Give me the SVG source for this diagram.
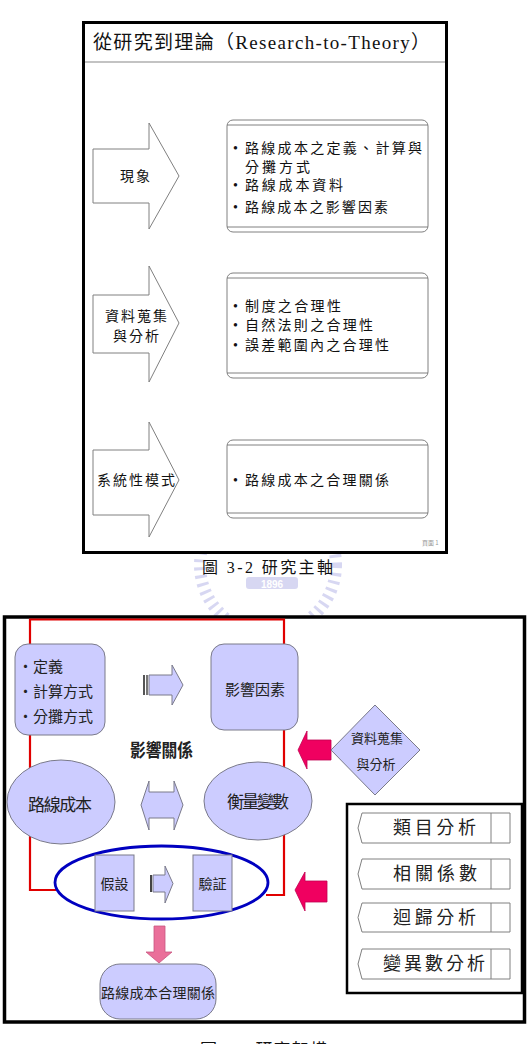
<svg xmlns="http://www.w3.org/2000/svg" width="529" height="1044" viewBox="0 0 529 1044">
<style>
.t1{font-family:"Liberation Serif","Noto Sans CJK TC",serif;fill:#111}
.t2{font-family:"Noto Sans CJK TC","Noto Sans CJK SC",sans-serif;fill:#222}
.frame{fill:#fff;stroke:#000}
.gbox{fill:#fff;stroke:#808080;stroke-width:1}
.lav{fill:#ccccff;stroke:#7a7a8a;stroke-width:1}
.red{fill:#f00060;stroke:#c00050;stroke-width:0.8}
.tab{fill:#fff;stroke:#808080;stroke-width:1}
</style>
<rect width="529" height="1044" fill="#fff"/>
<!-- watermark -->
<g id="watermark" opacity="0.55">
<circle cx="268" cy="565" r="68" fill="none" stroke="#b8b8e8" stroke-width="12" stroke-dasharray="3 5"/>
<rect x="246" y="577" width="52" height="12" rx="3" fill="#b8b8e8"/>
<text x="272" y="587.5" text-anchor="middle" font-family="Liberation Sans,sans-serif" font-weight="bold" font-size="10" fill="#fff">1896</text>
</g>
<!-- Figure 3-2 -->
<g id="fig32">
<rect class="frame" x="83.5" y="22.5" width="363" height="530" stroke-width="3"/>
<line x1="85" y1="62" x2="445" y2="62" stroke="#888" stroke-width="1.2"/>
<text class="t1" x="93" y="49" font-size="19" textLength="337" lengthAdjust="spacing">從研究到理論（Research-to-Theory）</text>
<text x="422" y="545" font-family="Noto Sans CJK TC,sans-serif" font-size="6" fill="#999">頁面 1</text>
</g>
<g id="arrow1">
<polygon class="gbox" points="93,149 149,149 149,123 179,176 149,229 149,203 93,203"/>
<text class="t1" x="136" y="181" font-size="14" text-anchor="middle" letter-spacing="2">現象</text>
</g>
<g id="box1">
<rect class="gbox" x="227" y="120" width="201" height="112" rx="6"/>
<line x1="227" y1="125" x2="428" y2="125" stroke="#808080"/>
<line x1="227" y1="227" x2="428" y2="227" stroke="#808080"/>
<g class="t1" font-size="14">
<text x="233" y="153">•</text><text x="245" y="153" textLength="177" lengthAdjust="spacing">路線成本之定義、計算與</text>
<text x="245" y="172" textLength="65" lengthAdjust="spacing">分攤方式</text>
<text x="233" y="190">•</text><text x="245" y="190" textLength="98" lengthAdjust="spacing">路線成本資料</text>
<text x="233" y="212">•</text><text x="245" y="212" textLength="143" lengthAdjust="spacing">路線成本之影響因素</text>
</g>
</g>
<g id="arrow2">
<polygon class="gbox" points="93,295 149,295 149,266 179,323 149,382 149,353 93,353"/>
<text class="t1" x="137" y="321" font-size="14" text-anchor="middle" letter-spacing="2">資料蒐集</text>
<text class="t1" x="137" y="341" font-size="14" text-anchor="middle" letter-spacing="2">與分析</text>
</g>
<g id="box2">
<rect class="gbox" x="227" y="273" width="201" height="105" rx="6"/>
<line x1="227" y1="278" x2="428" y2="278" stroke="#808080"/>
<line x1="227" y1="373" x2="428" y2="373" stroke="#808080"/>
<g class="t1" font-size="14">
<text x="233" y="311">•</text><text x="245" y="311" textLength="96" lengthAdjust="spacing">制度之合理性</text>
<text x="233" y="330">•</text><text x="245" y="330" textLength="128" lengthAdjust="spacing">自然法則之合理性</text>
<text x="233" y="350">•</text><text x="245" y="350" textLength="144" lengthAdjust="spacing">誤差範圍內之合理性</text>
</g>
</g>
<g id="arrow3">
<polygon class="gbox" points="93,450 149,450 149,422 179,480 149,537 149,515 93,515"/>
<text class="t1" x="97" y="485" font-size="14" textLength="78" lengthAdjust="spacing">系統性模式</text>
</g>
<g id="box3">
<rect class="gbox" x="227" y="440" width="201" height="78" rx="6"/>
<line x1="227" y1="445" x2="428" y2="445" stroke="#808080"/>
<line x1="227" y1="513" x2="428" y2="513" stroke="#808080"/>
<g class="t1" font-size="14">
<text x="233" y="485">•</text><text x="245" y="485" textLength="144" lengthAdjust="spacing">路線成本之合理關係</text>
</g>
</g>
<text class="t1" x="202" y="573" font-size="16" textLength="131" lengthAdjust="spacing">圖 3-2 研究主軸</text>
<!-- Figure 3-3 -->
<g id="fig33">
<rect class="frame" x="4.5" y="617" width="520" height="405" stroke-width="3.5"/>
</g>
<g id="connectors">
<path d="M56,890 H30 V619.5 H284 V895 H266" fill="none" stroke="#e00000" stroke-width="2.2"/>
<polygon points="143,675 145,675 145,695 143,695" fill="#555"/>
<polygon points="146,675 148,675 148,695 146,695" fill="#777"/>
<polygon class="lav" points="149,675 172,675 172,665 183,685 172,705 172,695 149,695"/>
<polygon class="lav" points="141,805 149,781 149,792 174,792 174,781 183,805 174,830 174,818 149,818 149,830"/>
<polygon points="150,875 152,875 152,892 150,892" fill="#444"/>
<polygon class="lav" points="153,875 165,875 165,866 173,883.5 165,903 165,892 153,892"/>
<polygon points="154,926 165,926 165,952 172,952 159,963 146,952 154,952" fill="#ea6f9a" stroke="#c85580" stroke-width="0.8"/>
<polygon class="red" points="298,750 307,731 307,740 331,740 331,760 307,760 307,769"/>
<polygon class="red" points="295,890 305,872 305,881 327,881 327,902 305,902 305,911"/>
</g>
<g id="n-def">
<rect class="lav" x="15" y="644" width="90" height="91" rx="13"/>
<g class="t2" font-size="15">
<text x="18" y="672">・定義</text>
<text x="18" y="697">・計算方式</text>
<text x="18" y="722">・分攤方式</text>
</g>
</g>
<g id="n-factor">
<rect class="lav" x="211" y="644" width="87" height="86" rx="13"/>
<text class="t2" x="255" y="695" font-size="15" text-anchor="middle">影響因素</text>
</g>
<text class="t2" x="130" y="757" font-size="18" font-weight="bold" textLength="63" lengthAdjust="spacingAndGlyphs" fill="#111">影響關係</text>
<g id="n-cost">
<ellipse class="lav" cx="61" cy="802" rx="54" ry="42"/>
<text class="t2" x="28" y="811" font-size="17" textLength="64" lengthAdjust="spacing">路線成本</text>
</g>
<g id="n-measure">
<ellipse class="lav" cx="258" cy="801" rx="54" ry="39"/>
<text class="t2" x="227" y="808" font-size="17" textLength="62" lengthAdjust="spacing">衡量變數</text>
</g>
<g id="n-loop">
<ellipse cx="161.5" cy="882.5" rx="106.5" ry="36.5" fill="none" stroke="#0000c0" stroke-width="2.8"/>
</g>
<g id="n-hyp">
<rect class="lav" x="95" y="855" width="39" height="56"/>
<text class="t2" x="114.5" y="889" font-size="14" text-anchor="middle">假設</text>
</g>
<g id="n-verify">
<rect class="lav" x="193" y="855" width="39" height="56"/>
<text class="t2" x="212.5" y="889" font-size="14" text-anchor="middle">驗証</text>
</g>
<g id="n-result">
<rect class="lav" x="100" y="964" width="116" height="55" rx="20"/>
<text class="t2" x="101" y="998" font-size="14" textLength="114" lengthAdjust="spacing">路線成本合理關係</text>
</g>
<g id="n-data">
<polygon class="lav" points="375,705 420,750 375,795 331,750"/>
<text class="t2" x="377" y="743" font-size="13" text-anchor="middle">資料蒐集</text>
<text class="t2" x="376" y="769" font-size="13" text-anchor="middle">與分析</text>
</g>
<g id="n-methods">
<rect x="347" y="804" width="175" height="189" fill="#fff" stroke="#000" stroke-width="2.5"/>
<polygon class="tab" points="362,813 510,813 510,843 362,843 358,828"/>
<line x1="491" y1="813" x2="491" y2="843" stroke="#808080"/>
<text class="t2" x="393" y="834" font-size="18" textLength="83" lengthAdjust="spacing">類目分析</text>
<polygon class="tab" points="362,859 510,859 510,889 362,889 358,874"/>
<line x1="491" y1="859" x2="491" y2="889" stroke="#808080"/>
<text class="t2" x="393" y="880" font-size="18" textLength="84" lengthAdjust="spacing">相關係數</text>
<polygon class="tab" points="362,903 510,903 510,932 362,932 358,917.5"/>
<line x1="491" y1="903" x2="491" y2="932" stroke="#808080"/>
<text class="t2" x="393" y="924" font-size="18" textLength="83" lengthAdjust="spacing">迴歸分析</text>
<polygon class="tab" points="362,949 510,949 510,979 362,979 358,964"/>
<line x1="491" y1="949" x2="491" y2="979" stroke="#808080"/>
<text class="t2" x="383" y="970" font-size="18" textLength="102" lengthAdjust="spacing">變異數分析</text>
</g>
<text class="t1" x="200" y="1056" font-size="17" textLength="127" lengthAdjust="spacing">圖 3-3 研究架構</text>
</svg>
